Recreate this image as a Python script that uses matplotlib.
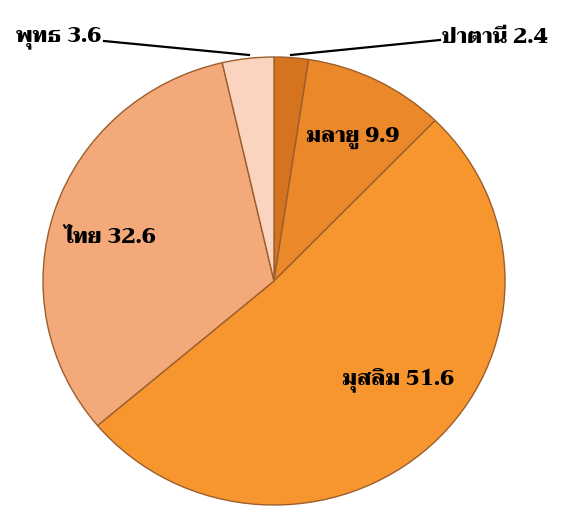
import matplotlib
matplotlib.use("Agg")
import matplotlib.pyplot as plt

labels = ["ปาตานี", "มลายู", "มุสลิม", "ไทย", "พุทธ"]
values = [2.4, 9.9, 51.6, 32.6, 3.6]
colors = ["#D5731F", "#EA882A", "#F7962F", "#F3A97A", "#FAD4BF"]

W, H = 562, 509
cx, cy, rx, ry = 274, 281, 231, 224


def to_data(px, py):
    # pixel position in the picture -> pie data coords
    return (px - cx) / rx, (cy - py) / ry


fig = plt.figure(figsize=(W / 100, H / 100), dpi=100)
ax = fig.add_axes([(cx - rx) / W, (H - cy - ry) / H, 2 * rx / W, 2 * ry / H])

wedges, _ = ax.pie(values, colors=colors, startangle=90, counterclock=False,
                   wedgeprops=dict(edgecolor="#9C5E2C", linewidth=1.0))
ax.set_aspect("auto")
ax.set_xlim(-1, 1)
ax.set_ylim(-1, 1)
ax.axis("off")

font = dict(family="Trirong", fontweight=900, fontsize=15.5, color="black")

# labels inside the slices
inside = {1: (353, 138), 2: (398, 380), 3: (110, 238)}
for i, (px, py) in inside.items():
    x, y = to_data(px, py)
    ax.text(x, y, f"{labels[i]} {values[i]}", ha="center", va="center", **font)

# outside labels with leader lines
x, y = to_data(101, 38)
ax.text(x, y, f"{labels[4]} {values[4]}", ha="right", va="center", clip_on=False, **font)
x0, y0 = to_data(104, 41)
x1, y1 = to_data(249, 55)
ax.plot([x0, x1], [y0, y1], color="black", lw=1.6, clip_on=False)

x, y = to_data(442, 38)
ax.text(x, y, f"{labels[0]} {values[0]}", ha="left", va="center", clip_on=False, **font)
x0, y0 = to_data(440, 40)
x1, y1 = to_data(291, 55)
ax.plot([x0, x1], [y0, y1], color="black", lw=1.6, clip_on=False)

fig.savefig("out.png", dpi=100)
